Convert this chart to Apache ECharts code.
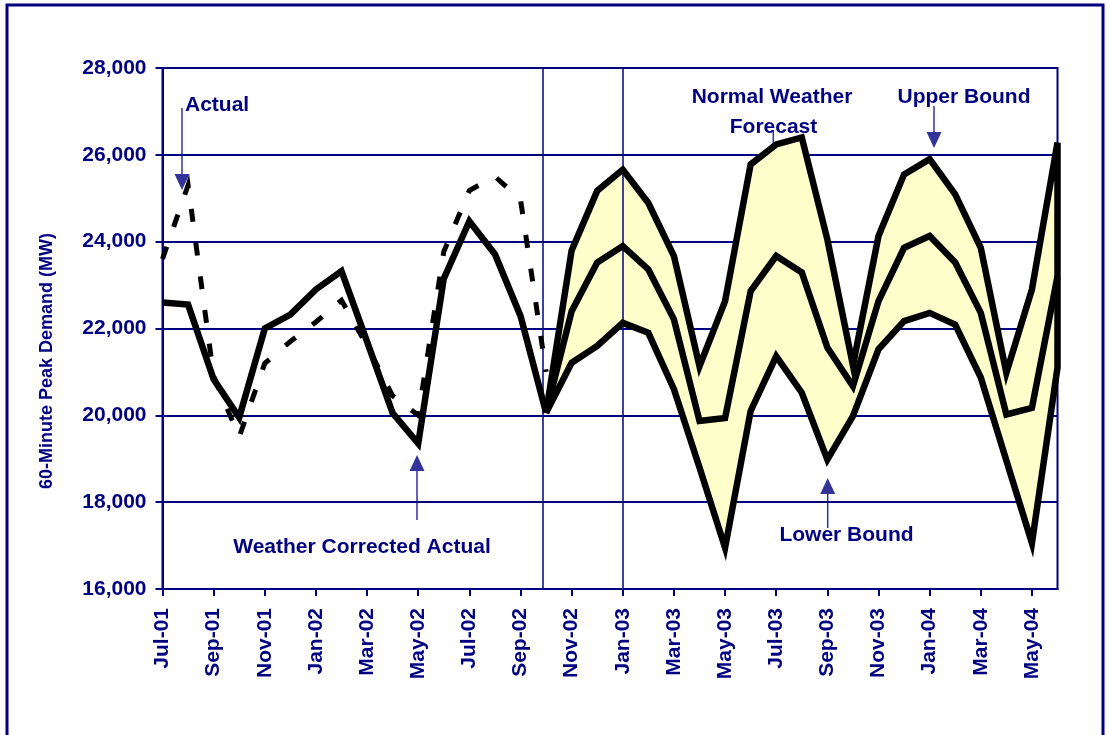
<!DOCTYPE html>
<html>
<head>
<meta charset="utf-8">
<title>60-Minute Peak Demand Forecast</title>
<script src="https://cdn.jsdelivr.net/npm/echarts@6/dist/echarts.min.js"></script>
<style>
  html, body { margin: 0; padding: 0; background: #ffffff; }
  #chart { width: 1109px; height: 735px; }
</style>
</head>
<body>
<div id="chart"></div>
<script>
// Monthly categories on the horizontal axis
const categories = [
  'Jul-01', 'Aug-01', 'Sep-01', 'Oct-01', 'Nov-01', 'Dec-01',
  'Jan-02', 'Feb-02', 'Mar-02', 'Apr-02', 'May-02', 'Jun-02',
  'Jul-02', 'Aug-02', 'Sep-02', 'Oct-02', 'Nov-02', 'Dec-02',
  'Jan-03', 'Feb-03', 'Mar-03', 'Apr-03', 'May-03', 'Jun-03',
  'Jul-03', 'Aug-03', 'Sep-03', 'Oct-03', 'Nov-03', 'Dec-03',
  'Jan-04', 'Feb-04', 'Mar-04', 'Apr-04', 'May-04', 'Jun-04'
];

// History (MW), Jul-01 .. Oct-02
const actual = [
  23600, 25300, 20900, 19500, 21200, 21700, 22150, 22650,
  21600, 20450, 20000, 23770, 25180, 25500, 24970, 21000
];
const weatherCorrected = [
  22600, 22550, 20830, 19950, 22000, 22320, 22900, 23320,
  21700, 20050, 19350, 23150, 24470, 23710, 22290, 20060
];

// Forecast (MW), Oct-02 .. Jun-04
const forecastStart = 'Oct-02';
const upperBound = [
  20060, 23800, 25170, 25660, 24890, 23670, 21130, 22630, 25780, 26240, 26400,
  24050, 21150, 24130, 25550, 25900, 25090, 23860, 20980, 22900, 26280
];
const normalWeather = [
  20060, 22400, 23520, 23900, 23360, 22210, 19870, 19940, 22860, 23670, 23290,
  21560, 20670, 22630, 23860, 24130, 23520, 22360, 20020, 20170, 23200
];
const lowerBound = [
  20060, 21210, 21600, 22130, 21900, 20600, 18800, 16950, 20100, 21360, 20520,
  18980, 19980, 21520, 22170, 22360, 22090, 20870, 18960, 17060, 21100
];

// Y axis range
const yMin = 16000, yMax = 28000, yStep = 2000;

const NAVY = '#000080';
const ARROW = '#333399';
const BAND = '#FFFFCC';
const FONT = '"Liberation Sans", Arial, Helvetica, sans-serif';

const startIdx = categories.indexOf(forecastStart);
const dividerPos = startIdx - 0.12;           // start-of-forecast rule
const janPos = categories.indexOf('Jan-03');  // second reference rule

const pairs = (arr, offset) => arr.map((v, i) => [offset + i, v]);

// Closed outline of the forecast range: upper bound forward, lower bound back
function bandPoints(api) {
  const top = upperBound.map((v, i) => api.coord([startIdx + i, v]));
  const bottom = lowerBound.map((v, i) => api.coord([startIdx + i, v])).reverse();
  return top.concat(bottom);
}

function arrow(x, yStart, yTip, up) {
  const head = 16, half = 7.5;
  const base = up ? yTip + head : yTip - head;
  return [
    { type: 'line', silent: true, shape: { x1: x, y1: yStart, x2: x, y2: base },
      style: { stroke: ARROW, lineWidth: 1.5 } },
    { type: 'polygon', silent: true,
      shape: { points: [[x - half, base], [x + half, base], [x, yTip]] },
      style: { fill: ARROW } }
  ];
}

function label(text, x, y, align) {
  return {
    type: 'text', silent: true, x: x, y: y,
    style: { text: text, fill: NAVY, font: 'bold 21px ' + FONT,
             align: align || 'center', verticalAlign: 'middle' }
  };
}

const thick = { color: '#000000', width: 6.5, join: 'miter', miterLimit: 12 };

const chart = echarts.init(document.getElementById('chart'), null, { renderer: 'canvas' });

chart.setOption({
  animation: false,
  backgroundColor: '#ffffff',
  grid: {
    left: 162.5, right: 51.5, top: 68, bottom: 146,
    show: true, borderColor: NAVY, borderWidth: 2, backgroundColor: 'transparent'
  },
  xAxis: [
    {
      type: 'category',
      data: categories,
      boundaryGap: false,
      axisLine: { lineStyle: { color: NAVY, width: 2 } },
      axisTick: { show: true, interval: 1, length: 7, lineStyle: { color: NAVY, width: 2 } },
      axisLabel: {
        interval: 1, rotate: 90, margin: 19,
        color: NAVY, fontFamily: FONT, fontWeight: 'bold', fontSize: 21
      },
      splitLine: { show: false }
    },
    {
      type: 'value', min: 0, max: categories.length - 1, show: false
    }
  ],
  yAxis: {
    type: 'value',
    min: yMin, max: yMax, interval: yStep,
    axisLine: { show: true, lineStyle: { color: NAVY, width: 2 } },
    axisTick: { show: true, length: 7, lineStyle: { color: NAVY, width: 2 } },
    axisLabel: {
      margin: 16, color: NAVY, fontFamily: FONT, fontWeight: 'bold', fontSize: 21,
      formatter: v => v.toLocaleString('en-US')
    },
    splitLine: { show: true, lineStyle: { color: NAVY, width: 2 } }
  },
  series: [
    {
      name: 'Forecast range fill',
      type: 'custom',
      xAxisIndex: 1,
      z: 1,
      silent: true,
      data: [[startIdx, lowerBound[0]]],
      renderItem: (params, api) => ({
        type: 'polygon',
        shape: { points: bandPoints(api) },
        style: { fill: BAND, stroke: null }
      })
    },
    {
      name: 'Reference rules',
      type: 'line',
      xAxisIndex: 1,
      data: [],
      z: 2,
      markLine: {
        silent: true,
        z: 2,
        symbol: ['none', 'none'],
        label: { show: false },
        lineStyle: { color: NAVY, width: 1.5, type: 'solid' },
        data: [{ xAxis: dividerPos }, { xAxis: janPos }]
      }
    },
    {
      name: 'Upper / Lower Bound',
      type: 'custom',
      xAxisIndex: 1,
      z: 3,
      silent: true,
      data: [[startIdx, upperBound[0]]],
      renderItem: (params, api) => ({
        type: 'polygon',
        shape: { points: bandPoints(api) },
        style: { fill: null, stroke: '#000000', lineWidth: 6.5, lineJoin: 'miter', miterLimit: 6 }
      })
    },
    {
      name: 'Normal Weather Forecast',
      type: 'line',
      xAxisIndex: 1,
      z: 4,
      symbol: 'none',
      data: pairs(normalWeather, startIdx),
      lineStyle: thick
    },
    {
      name: 'Weather Corrected Actual',
      type: 'line',
      xAxisIndex: 1,
      z: 4,
      symbol: 'none',
      data: pairs(weatherCorrected, 0),
      lineStyle: thick
    },
    {
      name: 'Actual',
      type: 'line',
      xAxisIndex: 1,
      z: 4,
      symbol: 'none',
      data: pairs(actual, 0),
      lineStyle: { color: '#000000', width: 5, type: [13, 21], join: 'miter', miterLimit: 12 }
    }
  ],
  graphic: [
    { type: 'rect', silent: true, z: 0,
      shape: { x: 7, y: 5, width: 1096, height: 760 },
      style: { fill: null, stroke: NAVY, lineWidth: 3 } },
    { type: 'text', silent: true, x: 47, y: 361, rotation: Math.PI / 2,
      style: { text: '60-Minute Peak Demand (MW)', fill: NAVY, font: 'bold 18px ' + FONT,
               align: 'center', verticalAlign: 'middle' } },
    label('Actual', 185, 105, 'left'),
    ...arrow(182, 108, 190, false),
    label('Weather Corrected Actual', 362, 547),
    ...arrow(417, 520, 455, true),
    label('Normal Weather', 772, 97),
    label('Forecast', 773.5, 127),
    ...arrow(773.3, 131, 253, false),
    label('Upper Bound', 964, 97),
    ...arrow(934, 106, 148, false),
    label('Lower Bound', 846.5, 535),
    ...arrow(827.7, 528, 478, true)
  ]
});
</script>
</body>
</html>
